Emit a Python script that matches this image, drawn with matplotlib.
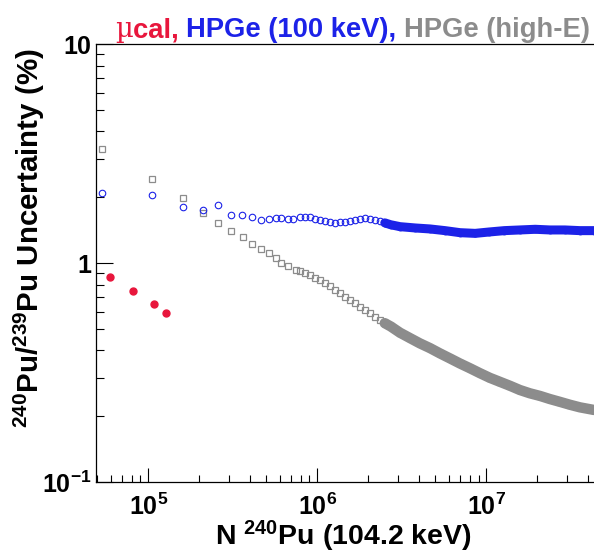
import numpy as np
import matplotlib.pyplot as plt
from matplotlib.ticker import LogLocator, NullFormatter

plt.rcParams['font.family'] = ['Liberation Sans', 'DejaVu Sans']
plt.rcParams['font.weight'] = 'bold'
plt.rcParams['mathtext.fontset'] = 'custom'
plt.rcParams['mathtext.rm'] = 'Liberation Sans:bold'
plt.rcParams['mathtext.it'] = 'Liberation Sans:bold'
plt.rcParams['mathtext.bf'] = 'Liberation Sans:bold'
plt.rcParams['mathtext.default'] = 'rm'

# micro-calorimeter points
ucal_n = [5.93e4, 8.09e4, 1.077e5, 1.27e5]
ucal_unc = [0.866, 0.745, 0.650, 0.595]

# HPGe (100 keV): separate points, then the dense band
hpge100_n = [5.3e4, 1.05e5, 1.6e5, 2.1e5, 2.6e5, 3.1e5, 3.6e5, 4.1e5, 4.65e5,
             5.2e5, 5.7e5, 6.1e5, 6.7e5, 7.2e5, 7.9e5, 8.45e5, 9.1e5, 9.69e5,
             1.04e6, 1.11e6, 1.19e6, 1.27e6, 1.36e6, 1.46e6, 1.56e6, 1.67e6,
             1.79e6, 1.92e6, 2.05e6, 2.19e6, 2.35e6, 2.51e6]
hpge100_unc = [2.09, 2.04, 1.81, 1.75, 1.84, 1.66, 1.66, 1.63, 1.58,
               1.59, 1.61, 1.61, 1.59, 1.59, 1.63, 1.63, 1.62, 1.60,
               1.58, 1.56, 1.54, 1.53, 1.54, 1.55, 1.56, 1.58,
               1.60, 1.61, 1.60, 1.58, 1.56, 1.53]
hpge100_band_n = [2.51e6, 2.72e6, 3.09e6, 3.8e6, 4.65e6, 5.7e6, 7.0e6, 8.6e6,
                  1.04e7, 1.28e7, 1.58e7, 1.95e7, 2.38e7, 2.92e7, 3.58e7, 4.34e7]
hpge100_band_unc = [1.53, 1.50, 1.47, 1.45, 1.435, 1.41, 1.38, 1.37,
                    1.39, 1.41, 1.42, 1.43, 1.42, 1.42, 1.41, 1.41]

# HPGe (high-E)
hpgehi_n = [5.3e4, 1.05e5, 1.6e5, 2.1e5, 2.58e5, 3.08e5, 3.62e5, 4.09e5, 4.65e5,
            5.18e5, 5.7e5, 6.12e5, 6.74e5, 7.48e5, 7.9e5, 8.45e5, 9.1e5, 9.69e5,
            1.04e6, 1.11e6, 1.19e6, 1.27e6, 1.36e6, 1.46e6, 1.56e6, 1.67e6,
            1.79e6, 1.92e6, 2.05e6, 2.19e6, 2.35e6, 2.51e6]
hpgehi_unc = [3.34, 2.42, 1.98, 1.70, 1.53, 1.41, 1.32, 1.23, 1.166,
              1.11, 1.06, 1.006, 0.972, 0.932, 0.925, 0.90, 0.88, 0.86,
              0.84, 0.81, 0.785, 0.757, 0.73, 0.705, 0.68, 0.657,
              0.634, 0.612, 0.59, 0.57, 0.551, 0.533]
hpgehi_band_n = [2.51e6, 2.72e6, 3.09e6, 3.55e6, 4.05e6, 4.65e6, 5.32e6, 6.1e6,
                 6.98e6, 8.0e6, 9.18e6, 1.05e7, 1.2e7, 1.38e7, 1.58e7, 1.81e7,
                 2.08e7, 2.38e7, 2.73e7, 3.13e7, 3.58e7, 4.34e7]
hpgehi_band_unc = [0.533, 0.515, 0.482, 0.455, 0.431, 0.41, 0.388, 0.368,
                   0.349, 0.332, 0.315, 0.30, 0.288, 0.276, 0.264, 0.255,
                   0.248, 0.24, 0.233, 0.226, 0.22, 0.214]

red = '#e8163c'
blue = '#1c22e8'
gray = '#8c8c8c'

fig = plt.figure(figsize=(5.94, 5.53), dpi=100)
ax = fig.add_axes([0.1611, 0.1278, 0.8389, 0.7921])
ax.set_xscale('log')
ax.set_yscale('log')
ax.set_xlim(4.89e4, 4.34e7)
ax.set_ylim(0.1, 10)

ax.plot(hpgehi_band_n, hpgehi_band_unc, '-', color=gray, lw=7.5, solid_capstyle='round', zorder=2)
ax.plot(hpgehi_band_n, hpgehi_band_unc, 's', ms=4.7, mfc='none', mec=gray, mew=0.9, zorder=2)
ax.plot(hpgehi_n, hpgehi_unc, 's', ms=4.7, mfc='none', mec=gray, mew=0.9, zorder=2)

ax.plot(hpge100_band_n, hpge100_band_unc, '-', color=blue, lw=6.5, solid_capstyle='round', zorder=3)
ax.plot(hpge100_band_n, hpge100_band_unc, 'o', ms=4.7, mfc='none', mec=blue, mew=0.9, zorder=3)
ax.plot(hpge100_n, hpge100_unc, 'o', ms=4.7, mfc='none', mec=blue, mew=0.8, zorder=3)

ax.plot(ucal_n, ucal_unc, 'o', ms=5, color=red, zorder=4)

ax.spines['right'].set_visible(False)
for s in ['left', 'bottom', 'top']:
    ax.spines[s].set_linewidth(0.9)

ax.set_xticks([1e5, 1e6, 1e7], labels=[r'$10^{5}$', r'$10^{6}$', r'$10^{7}$'])
ax.set_yticks([0.1, 1, 10], labels=[r'$10^{-1}$', '1', '10'])
ax.xaxis.set_minor_locator(LogLocator(base=10, subs=np.arange(2, 10), numticks=20))
ax.yaxis.set_minor_locator(LogLocator(base=10, subs=np.arange(2, 10), numticks=20))
ax.xaxis.set_minor_formatter(NullFormatter())
ax.yaxis.set_minor_formatter(NullFormatter())
ax.tick_params(which='both', direction='in', top=False, right=False, width=0.8)
ax.tick_params(axis='x', which='major', length=10, pad=8, labelsize=18)
ax.tick_params(axis='x', which='minor', length=5)
ax.tick_params(axis='y', which='major', length=12, pad=3, labelsize=18)
ax.tick_params(axis='y', which='minor', length=6)

r = fig.canvas.get_renderer()

fig.text(343 / 594, 1 - 545 / 553, r'N $^{240}$Pu (104.2 keV)', fontsize=20.5,
         ha='center', va='baseline')
yl = fig.text(29 / 594, 1 - 48 / 553, r'$^{240}$Pu/$^{239}$Pu Uncertainty (%)', fontsize=21,
              rotation=90, ha='center', va='top')
# scale so the title runs the same length as in the original
yl.set_fontsize(21 * 380 / yl.get_window_extent(r).height)

# title in three colours
parts = [('µ', red, 'DejaVu Serif', 'normal'),
         ('cal, ', red, 'Liberation Sans', 'bold'),
         ('HPGe (100 keV), ', blue, 'Liberation Sans', 'bold'),
         ('HPGe (high-E)', gray, 'Liberation Sans', 'bold')]
yb = 1 - 37 / 553
size = 19.0
for attempt in range(2):
    x = 115
    texts = []
    for txt, c, fam, w in parts:
        t = fig.text(x / 594, yb, txt, color=c, family=fam, fontweight=w,
                     fontsize=size, ha='left', va='baseline')
        x = t.get_window_extent(r).x1
        texts.append(t)
    if attempt == 0:
        size = size * (589 - 115) / (x - 115)
        for t in texts:
            t.remove()

fig.savefig('out.png', dpi=100)
